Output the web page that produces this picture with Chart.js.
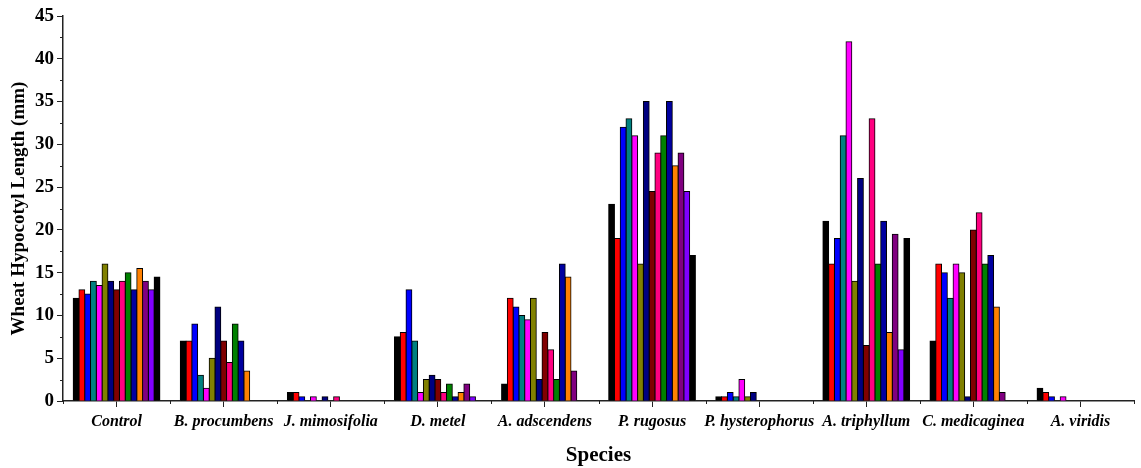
<!DOCTYPE html>
<html>
<head>
<meta charset="utf-8">
<title>Wheat Hypocotyl Length</title>
<script src="https://cdn.jsdelivr.net/npm/chart.js@4/dist/chart.umd.min.js"></script>
<style>
  html, body { margin: 0; padding: 0; background: #fff; }
  #wrap { width: 1141px; height: 468px; }
</style>
</head>
<body>
<div id="wrap"><canvas id="hypo-chart"></canvas></div>
<script>
  "use strict";

  /*---------------------------------------------------
      Data
    ---------------------------------------------------*/

  const species = [
    "Control", "B. procumbens", "J. mimosifolia", "D. metel", "A. adscendens",
    "P. rugosus", "P. hysterophorus", "A. triphyllum", "C. medicaginea", "A. viridis"
  ];

  const yTicks = [0, 5, 10, 15, 20, 25, 30, 35, 40, 45];

  // one array per bar position, values in species order
  const s01 = [12,   7,   1,   7.5, 2,   23,   0.5, 21,  7,   1.5];
  const s02 = [13,   7,   1,   8,   12,  19,   0.5, 16,  16,  1];
  const s03 = [12.5, 9,   0.5, 13,  11,  32,   1,   19,  15,  0.5];
  const s04 = [14,   3,   0,   7,   10,  33,   0.5, 31,  12,  0];
  const s05 = [13.5, 1.5, 0.5, 1,   9.5, 31,   2.5, 42,  16,  0.5];
  const s06 = [16,   5,   0,   2.5, 12,  16,   0.5, 14,  15,  0];
  const s07 = [14,   11,  0.5, 3,   2.5, 35,   1,   26,  0.5, 0];
  const s08 = [13,   7,   0,   2.5, 8,   24.5, 0,   6.5, 20,  0];
  const s09 = [14,   4.5, 0.5, 1,   6,   29,   0,   33,  22,  0];
  const s10 = [15,   9,   0,   2,   2.5, 31,   0,   16,  16,  0];
  const s11 = [13,   7,   0,   0.5, 16,  35,   0,   21,  17,  0];
  const s12 = [15.5, 3.5, 0,   1,   14.5, 27.5, 0,  8,   11,  0];
  const s13 = [14,   0,   0,   2,   3.5, 29,   0,   19.5, 1,  0];
  const s14 = [13,   0,   0,   0.5, 0,   24.5, 0,   6,   0,   0];
  const s15 = [14.5, 0,   0,   0,   0,   17,   0,   19,  0,   0];

  const seriesValues = [s01, s02, s03, s04, s05, s06, s07, s08, s09, s10, s11, s12, s13, s14, s15];
  const seriesColors = [
    "#000000", "#ff0000", "#0000ff", "#008080", "#ff00ff",
    "#808000", "#000080", "#800000", "#ff0080", "#008000",
    "#0000a0", "#ff8000", "#800080", "#8000ff", "#000000"
  ];

  const serif = "'Liberation Serif', 'Times New Roman', serif";

  /*---------------------------------------------------
      Minor ticks (Origin style)
    ---------------------------------------------------*/

  const minorTicks = {
    id: "minorTicks",
    afterDraw(chart) {
      const ctx = chart.ctx;
      const x = chart.scales.x;
      const y = chart.scales.y;
      ctx.save();
      ctx.strokeStyle = "#222";
      ctx.lineWidth = 1;
      ctx.beginPath();
      for (let v = 2.5; v < 45; v += 5) {
        const py = Math.round(y.getPixelForValue(v)) + 0.5;
        ctx.moveTo(x.left - 3, py);
        ctx.lineTo(x.left, py);
      }
      const step = (x.right - x.left) / species.length;
      for (let i = 0; i <= species.length; i++) {
        const px = Math.round(x.left + i * step) + 0.5;
        ctx.moveTo(px, y.bottom);
        ctx.lineTo(px, y.bottom + 3);
      }
      ctx.stroke();
      ctx.restore();
    },
  };

  /*---------------------------------------------------
      Chart
    ---------------------------------------------------*/

  const datasets = seriesValues.map((vals, i) => ({
    label: "Series " + (i + 1),
    data: vals,
    backgroundColor: seriesColors[i],
    borderColor: "#000",
    borderWidth: 1,
    inflateAmount: 0.5,
    categoryPercentage: 0.81,
    barPercentage: 1.0,
  }));

  const ctx = document.getElementById("hypo-chart");
  const myChart = new Chart(ctx, {
    type: "bar",
    data: { labels: species, datasets: datasets },
    options: {
      responsive: true,
      maintainAspectRatio: false,
      animation: false,
      layout: { padding: { top: 16, right: 7, left: 0, bottom: 0 } },
      plugins: {
        legend: { display: false },
        tooltip: { enabled: false },
      },
      scales: {
        x: {
          grid: {
            display: true,
            drawOnChartArea: false,
            offset: false,
            tickLength: 6,
            tickColor: "#222",
            tickWidth: 1,
          },
          border: { color: "#222", width: 1.5 },
          ticks: {
            autoSkip: false,
            maxRotation: 0,
            color: "#000",
            padding: 5,
            font: { family: serif, size: 16, weight: "bold", style: "italic" },
          },
          title: {
            display: true,
            text: "Species",
            color: "#000",
            padding: { top: 4, bottom: 0 },
            font: { family: serif, size: 21, weight: "bold" },
          },
          afterFit(scale) { scale.height = 67; },
        },
        y: {
          min: 0,
          max: 45,
          afterBuildTicks(scale) {
            scale.ticks = yTicks.map((v) => ({ value: v }));
          },
          grid: {
            display: true,
            drawOnChartArea: false,
            tickLength: 6,
            tickColor: "#222",
            tickWidth: 1,
          },
          border: { color: "#222", width: 1.5 },
          ticks: {
            color: "#000",
            padding: 3,
            font: { family: serif, size: 19, weight: "bold" },
          },
          title: {
            display: true,
            text: "Wheat Hypocotyl Length (mm)",
            color: "#000",
            padding: { top: 8, bottom: 4 },
            font: { family: serif, size: 19, weight: "bold" },
          },
          afterFit(scale) { scale.width = 63; },
        },
      },
    },
    plugins: [minorTicks],
  });
</script>
</body>
</html>
